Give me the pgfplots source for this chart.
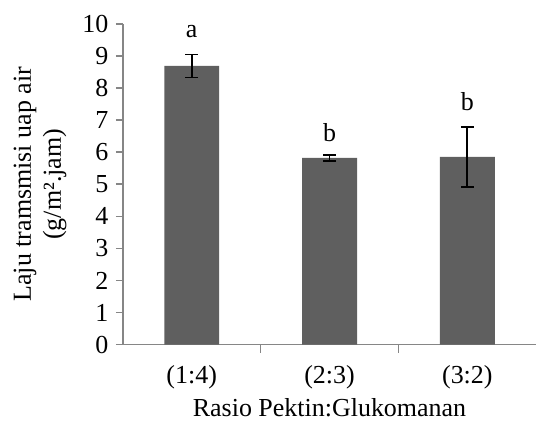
\documentclass[border=0pt]{standalone}
\usepackage{fontspec}
\setmainfont{Liberation Serif}
\usepackage{pgfplots}
\pgfplotsset{compat=1.18}
\definecolor{barg}{HTML}{5F5F5F}
\definecolor{axg}{HTML}{868686}
\begin{document}
\begin{tikzpicture}
\begin{axis}[
  scale only axis,
  width=414pt, height=321pt,
  xmin=-0.5, xmax=2.5, ymin=0, ymax=10,
  axis x line*=bottom, axis y line*=left,
  axis line style={axg, line width=1.5pt, -},
  xtick={0,1,2}, xticklabels={(1:4),(2:3),(3:2)},
  minor xtick={0.5,1.5},
  ytick={0,1,...,10},
  major x tick style={draw=none},
  minor tick length=8pt,
  major tick length=7pt,
  tick style={axg, line width=1.5pt},
  tick align=outside,
  font=\fontsize{26}{30}\selectfont,
  tick label style={font=\fontsize{26}{30}\selectfont},
  /pgf/number format/assume math mode=true,
  yticklabel style={xshift=-4pt},
  xticklabel style={yshift=-10pt},
  xlabel={Rasio Pektin:Glukomanan},
  xlabel style={yshift=-3pt},
  ylabel={Laju tramsmisi uap air\\(g/m².jam)},
  ylabel style={align=center, at={(axis description cs:-0.128,0.5)}, anchor=south, rotate=0},
  clip=false,
]
\addplot[ybar, bar width=55pt, fill=barg, draw=none,
  error bars/.cd, y dir=both, y explicit,
  error bar style={line width=1.8pt, black},
  error mark options={rotate=90, mark size=6.5pt, line width=1.8pt, black}]
  coordinates {(0,8.69) +- (0,0.36) (1,5.82) +- (0,0.09) (2,5.85) +- (0,0.93)};
\node[font=\fontsize{26}{30}\selectfont] at (axis cs:0,9.75) {a};
\node[font=\fontsize{26}{30}\selectfont] at (axis cs:1,6.6) {b};
\node[font=\fontsize{26}{30}\selectfont] at (axis cs:2,7.57) {b};
\end{axis}
\path (current axis.south west) ++(-123pt,-80pt);
\path (current axis.north east) ++(0pt,24pt);
\end{tikzpicture}
\end{document}
